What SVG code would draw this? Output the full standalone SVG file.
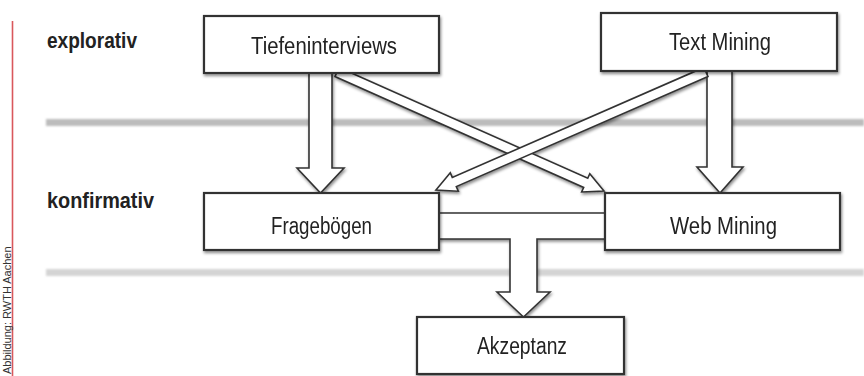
<svg xmlns="http://www.w3.org/2000/svg" width="864" height="376" viewBox="0 0 864 376">
  <defs>
    <filter id="shadow" x="-10%" y="-10%" width="130%" height="140%">
      <feDropShadow dx="1" dy="2" stdDeviation="1.5" flood-color="#000" flood-opacity="0.45"/>
    </filter>
    <filter id="soft" x="-5%" y="-100%" width="110%" height="300%">
      <feGaussianBlur stdDeviation="1"/>
    </filter>
  </defs>
  <style>
    .box { fill: #ffffff; stroke: #303030; stroke-width: 2.2; }
    .arrow { fill: #ffffff; stroke: #333333; stroke-width: 1.6; stroke-linejoin: miter; }
    .lbl { font-family: "Liberation Sans", Arial, sans-serif; font-size: 23px; fill: #222222; }
    .lvl { font-family: "Liberation Sans", Arial, sans-serif; font-size: 22px; font-weight: bold; fill: #222222; }
    .cap { font-family: "Liberation Sans", Arial, sans-serif; font-size: 11px; fill: #333333; }
  </style>
  <rect width="864" height="376" fill="#ffffff"/>

  <!-- side caption -->
  <line x1="12.5" y1="21" x2="12.5" y2="376" stroke="#d9585c" stroke-width="1.6"/>
  <text class="cap" transform="translate(10.5,374) rotate(-90)">Abbildung: RWTH Aachen</text>

  <!-- level bands -->
  <rect x="46" y="119" width="818" height="7" fill="#bcbcbc" filter="url(#soft)"/>
  <rect x="46" y="269" width="818" height="7" fill="#d4d4d4" filter="url(#soft)"/>

  <!-- level labels -->
  <text class="lvl" x="47" y="48" textLength="90" lengthAdjust="spacingAndGlyphs">explorativ</text>
  <text class="lvl" x="47" y="208" textLength="107" lengthAdjust="spacingAndGlyphs">konfirmativ</text>

  <!-- connectors -->
  <g id="connectors" filter="url(#shadow)">
    <polygon class="arrow" points="309,73 332,73 332,168 344,168 320.5,193 297,168 309,168"/>
    <polygon class="arrow" points="707,71 732,71 732,167 743,167 720,193 697,167 707,167"/>
    <polygon class="arrow" transform="translate(337,72) rotate(24.02)" points="0,-5 272.3,-5 272.3,-10 292.3,0 272.3,10 272.3,5 0,5"/>
    <polygon class="arrow" transform="translate(706,72) rotate(156.39)" points="0,-5 274.7,-5 274.7,-10 294.7,0 274.7,10 274.7,5 0,5"/>
    <path class="arrow" d="M439,213 L605,213 L605,239 L537,239 L537,292 L550,292 L523.5,317 L497,292 L510,292 L510,239 L439,239 Z"/>
  </g>

  <!-- nodes -->
  <g id="tiefeninterviews">
    <rect class="box" x="204" y="16" width="235" height="57" filter="url(#shadow)"/>
    <text class="lbl" x="251" y="54" textLength="146" lengthAdjust="spacingAndGlyphs">Tiefeninterviews</text>
  </g>
  <g id="textmining">
    <rect class="box" x="601" y="13" width="236" height="58" filter="url(#shadow)"/>
    <text class="lbl" x="669" y="50" textLength="102" lengthAdjust="spacingAndGlyphs">Text Mining</text>
  </g>
  <g id="frageboegen">
    <rect class="box" x="204" y="193" width="235" height="57" filter="url(#shadow)"/>
    <text class="lbl" x="271" y="234" textLength="101" lengthAdjust="spacingAndGlyphs">Fragebögen</text>
  </g>
  <g id="webmining">
    <rect class="box" x="605" y="193" width="235" height="57" filter="url(#shadow)"/>
    <text class="lbl" x="670" y="234" textLength="107" lengthAdjust="spacingAndGlyphs">Web Mining</text>
  </g>
  <g id="akzeptanz">
    <rect class="box" x="417" y="317" width="207" height="57" filter="url(#shadow)"/>
    <text class="lbl" x="477" y="354" textLength="90" lengthAdjust="spacingAndGlyphs">Akzeptanz</text>
  </g>
</svg>
